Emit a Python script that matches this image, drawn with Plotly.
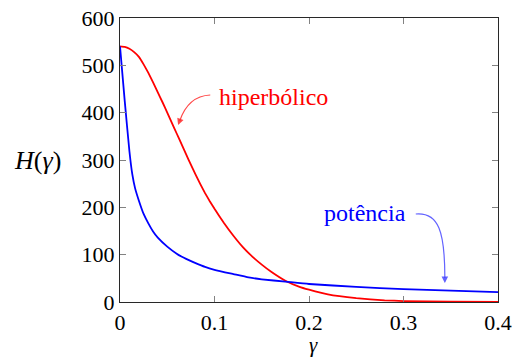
import plotly.graph_objects as go

# --- data ---
gamma_hip = [0.0, 0.005, 0.01, 0.015, 0.02, 0.025, 0.03, 0.035, 0.04, 0.045, 0.05, 0.055, 0.06,
             0.065, 0.07, 0.075, 0.08, 0.085, 0.09, 0.095, 0.1, 0.11, 0.12, 0.13, 0.14, 0.15,
             0.16, 0.175, 0.19, 0.2, 0.22, 0.25, 0.28, 0.3, 0.35, 0.4]
H_hip = [540, 539, 535, 528, 518, 502, 484, 464, 443, 422, 400, 378, 356,
         334, 312, 290, 269, 249, 230, 213, 197, 167, 140, 116, 96, 79,
         64, 45, 32, 26, 16, 8, 3.5, 2, 0.6, 0.2]

gamma_pot = [0.0, 0.005, 0.01, 0.013, 0.016, 0.02, 0.025, 0.03, 0.035, 0.04, 0.05, 0.06, 0.065, 0.07,
             0.08, 0.09, 0.1, 0.12, 0.136, 0.15, 0.175, 0.2, 0.25, 0.3, 0.35, 0.4]
H_pot = [540, 425, 318, 270, 240, 214, 186, 166, 149, 136, 117, 102, 96, 91,
         82, 74, 68, 59, 52, 48, 43, 38, 32, 27, 24, 21]

x_ticks = [0, 0.1, 0.2, 0.3, 0.4]
x_tick_labels = ["0", "0.1", "0.2", "0.3", "0.4"]
y_ticks = [0, 100, 200, 300, 400, 500, 600]

FONT = "Liberation Serif, Times New Roman, serif"

fig = go.Figure()
fig.add_trace(go.Scatter(x=gamma_hip, y=H_hip, mode="lines",
                         line=dict(color="rgb(255,0,0)", width=1.8, shape="spline", smoothing=0.3),
                         showlegend=False))
fig.add_trace(go.Scatter(x=gamma_pot, y=H_pot, mode="lines",
                         line=dict(color="rgb(0,0,255)", width=1.8, shape="spline", smoothing=0.5),
                         showlegend=False))

# pixel -> data helpers for annotation placement
def px2x(px):
    return (px - 120) / 377 * 0.4

def py2y(py):
    return (302 - py) / 284 * 600

red_c = "rgba(255,40,40,0.85)"
blue_c = "rgba(60,60,255,0.8)"

# curved arrow: hiperbólico
fig.add_shape(type="path", xref="x", yref="y",
              path=f"M {px2x(210)},{py2y(95)} Q {px2x(188)},{py2y(96)} {px2x(179.5)},{py2y(121)}",
              line=dict(color=red_c, width=1.2))
fig.add_annotation(x=px2x(178), y=py2y(125), ax=2.5, ay=-7, xref="x", yref="y",
                   text="", showarrow=True, arrowhead=2, arrowsize=1.1, arrowwidth=1.2,
                   arrowcolor=red_c)
fig.add_annotation(x=px2x(273), y=py2y(97), xref="x", yref="y", text="hiperbólico",
                   xanchor="center", yanchor="middle",
                   showarrow=False, font=dict(family=FONT, size=24, color="rgb(255,0,0)"))

# curved arrow: potência
fig.add_shape(type="path", xref="x", yref="y",
              path=(f"M {px2x(415)},{py2y(214)} C {px2x(438)},{py2y(212)} "
                    f"{px2x(444)},{py2y(232)} {px2x(444)},{py2y(278)}"),
              line=dict(color=blue_c, width=1.2))
fig.add_annotation(x=px2x(444), y=py2y(283), ax=0, ay=-7, xref="x", yref="y",
                   text="", showarrow=True, arrowhead=2, arrowsize=1.1, arrowwidth=1.2,
                   arrowcolor=blue_c)
fig.add_annotation(x=px2x(364), y=py2y(213), xref="x", yref="y", text="potência",
                   xanchor="center", yanchor="middle",
                   showarrow=False, font=dict(family=FONT, size=24, color="rgb(0,0,255)"))

# axis titles
fig.add_annotation(x=(38 - 120) / 377, y=(302 - 160) / 284, xref="paper", yref="paper",
                   text="<i>H</i>(<i>γ</i>)", xanchor="center", yanchor="middle",
                   showarrow=False, font=dict(family=FONT, size=26, color="black"))
fig.add_annotation(x=(313 - 120) / 377, y=(302 - 358) / 284, xref="paper", yref="paper",
                   text="<i>γ</i>", xanchor="center", yanchor="bottom", showarrow=False,
                   borderpad=0, font=dict(family=FONT, size=21, color="black"))

axis_common = dict(showgrid=False, zeroline=False, showline=True, mirror="ticks",
                   linecolor="rgb(40,40,40)", linewidth=1.3, ticks="inside", ticklen=6,
                   tickcolor="rgb(130,130,130)", tickwidth=1, ticklabeloverflow="allow",
                   automargin=False,
                   tickfont=dict(family=FONT, size=22, color="black"))

fig.update_xaxes(range=[0, 0.40001], tickvals=x_ticks, ticktext=x_tick_labels, **axis_common)
fig.update_yaxes(range=[0, 600.01], tickvals=y_ticks, **axis_common)

fig.update_layout(width=512, height=358, margin=dict(l=120, r=14, t=18, b=56, autoexpand=False),
                  paper_bgcolor="white", plot_bgcolor="white", showlegend=False)

fig.write_html("out.html")
